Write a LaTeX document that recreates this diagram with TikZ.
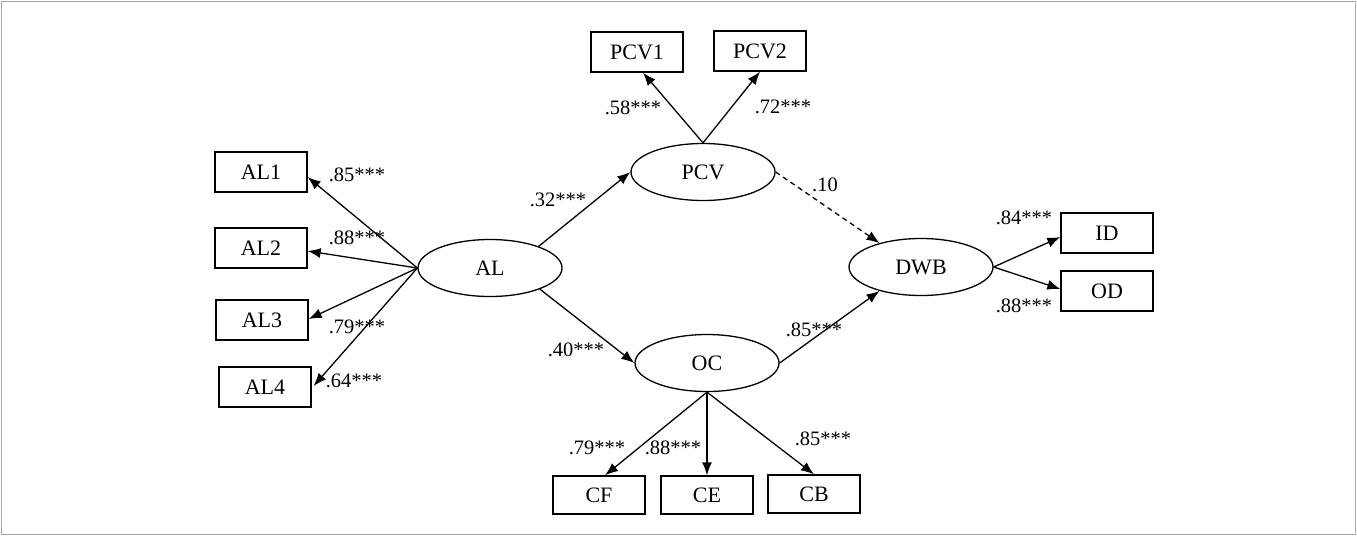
\documentclass[tikz,border=0pt]{standalone}
\usepackage{fontspec}
\setmainfont{Liberation Serif}
\usetikzlibrary{arrows.meta,shapes.geometric}
\begin{document}
\begin{tikzpicture}[x=1pt,y=-1pt,
  obs/.style={draw, line width=1.3pt, minimum width=92pt, minimum height=40pt, inner sep=0pt, font=\fontsize{22}{24}\selectfont},
  lat/.style={draw, ellipse, line width=1.3pt, minimum width=144pt, minimum height=57pt, inner sep=0pt, font=\fontsize{22}{24}\selectfont},
  lab/.style={font=\fontsize{20.5}{22}\selectfont, inner sep=0pt},
  arr/.style={line width=1.3pt, -{Latex[length=13pt,width=10pt]}},
  dasharr/.style={arr, dash pattern=on 5pt off 4pt}]
\useasboundingbox (0,0) rectangle (1357,536);
\draw[gray!70, line width=1pt] (1.5,1.5) rectangle (1355.5,534.5);
% latent
\node[lat] (AL) at (490,268) {AL};
\node[lat] (PCV) at (703,172) {PCV};
\node[lat] (OC) at (707,363) {OC};
\node[lat] (DWB) at (921,267) {DWB};
% observed
\node[obs] (AL1) at (261,172) {AL1};
\node[obs] (AL2) at (261,248) {AL2};
\node[obs] (AL3) at (262,320) {AL3};
\node[obs] (AL4) at (265,387) {AL4};
\node[obs] (PCV1) at (637,52) {PCV1};
\node[obs] (PCV2) at (760,51) {PCV2};
\node[obs] (ID) at (1107,233) {ID};
\node[obs] (OD) at (1107,291) {OD};
\node[obs, minimum height=38pt] (CF) at (599,495) {CF};
\node[obs, minimum height=38pt] (CE) at (707,495) {CE};
\node[obs, minimum height=38pt] (CB) at (814,494) {CB};
% connectors
\draw[arr] (AL.west) -- ([yshift=-5pt]AL1.east);
\draw[arr] (AL.west) -- ([yshift=-3pt]AL2.east);
\draw[arr] (AL.west) -- ([yshift=1pt]AL3.east);
\draw[arr] (AL.west) -- ([xshift=2pt,yshift=1pt]AL4.east);
\draw[arr] (PCV.north) -- ([xshift=6pt]PCV1.south);
\draw[arr] (PCV.north) -- (PCV2.south);
\draw[arr] (AL.24) -- (PCV.west);
\draw[arr] (AL.-23) -- (OC.west);
\draw[dasharr] (PCV.east) -- (DWB.150);
\draw[arr] (OC.east) -- (DWB.210);
\draw[arr] (DWB.east) -- ([yshift=-4pt]ID.west);
\draw[arr] (DWB.east) -- ([yshift=2pt]OD.west);
\draw[arr] (OC.south) -- ([xshift=6pt]CF.north);
\draw[arr] (OC.south) -- (CE.north);
\draw[arr] (OC.south) -- (CB.north);
% labels
\node[lab] (l1) at (357,175) {.85***};
\node[lab] (l2) at (357,238) {.88***};
\node[lab] (l3) at (357,327) {.79***};
\node[lab] (l4) at (354,381) {.64***};
\node[lab] (l5) at (633,108) {.58***};
\node[lab] (l6) at (783,107) {.72***};
\node[lab] (l7) at (558,200) {.32***};
\node[lab] (l8) at (576,350) {.40***};
\node[lab] (l9) at (825,185) {.10};
\node[lab] (l10) at (814,330) {.85***};
\node[lab] (l11) at (1024,218) {.84***};
\node[lab] (l12) at (1024,306) {.88***};
\node[lab] (l13) at (597,448) {.79***};
\node[lab] (l14) at (673,448) {.88***};
\node[lab] (l15) at (823,439) {.85***};
\end{tikzpicture}
\end{document}
